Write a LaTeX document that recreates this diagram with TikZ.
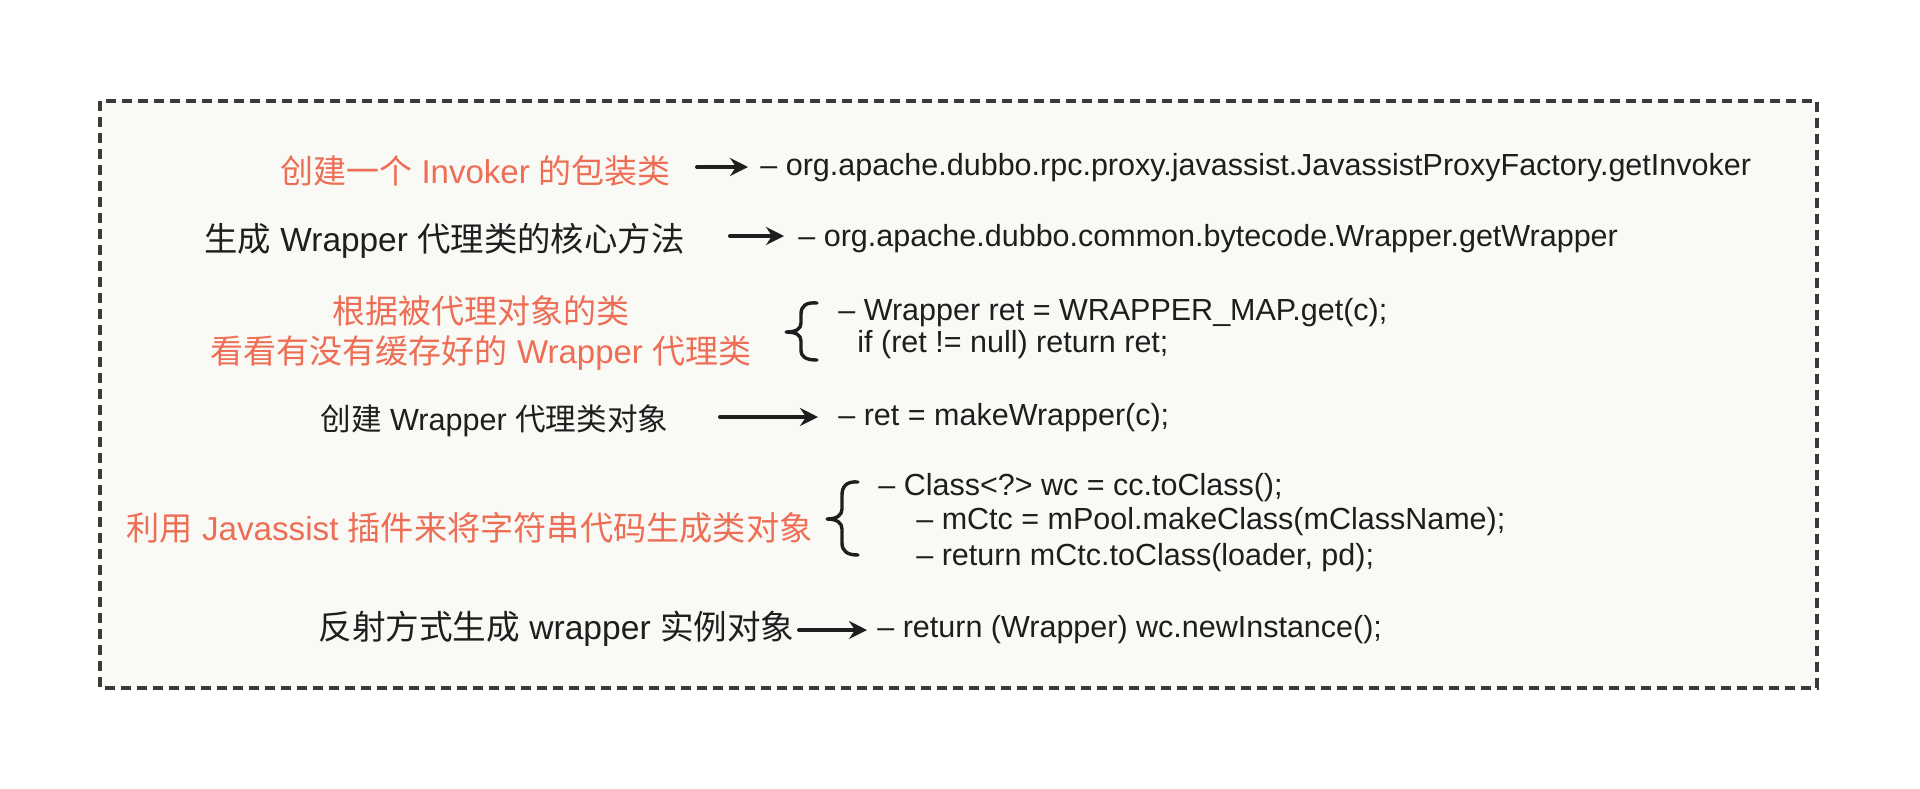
\documentclass[tikz,border=0pt]{standalone}
\usepackage{fontspec}
\setmainfont{Liberation Sans}
\newfontfamily\cjk{Noto Sans CJK SC}
\usetikzlibrary{arrows.meta}
\definecolor{orng}{HTML}{EE6E55}
\definecolor{ink}{HTML}{1E1E1E}
\definecolor{boxbg}{HTML}{F9F9F6}
\definecolor{boxline}{HTML}{3A3A3A}
\tikzset{
  lbltxt/.style={anchor=base west, inner sep=0pt, font=\fontsize{16.5}{20}\selectfont, text=ink},
  hot/.style={text=orng},
  codetxt/.style={anchor=base west, inner sep=0pt, font=\fontsize{15.25}{18}\selectfont, text=ink},
  conn/.style={line width=2pt, draw=ink, line cap=round, -{Stealth[length=9pt,width=9pt,inset=3pt]}},
  bracket/.style={line width=1.7pt, draw=ink, line cap=round, line join=round},
  dashframe/.style={draw=boxline, line width=1.75pt, dash pattern=on 5pt off 3pt, fill=boxbg}
}
\begin{document}
\begin{tikzpicture}[x=0.5pt,y=-0.5pt]
\useasboundingbox (0,0) rectangle (1920,788);
\fill[white] (0,0) rectangle (1920,788);
\draw[dashframe] (100,101) rectangle (1817,688);

% row 1
\node[lbltxt,hot] (l1) at (280,183) {{\cjk 创建一个} Invoker {\cjk 的包装类}};
\node[codetxt] (c1) at (760,175) {-- org.apache.dubbo.rpc.proxy.javassist.JavassistProxyFactory.getInvoker};
\coordinate (a1s) at (697,167);
\coordinate (a1e) at (748,167);
\draw[conn] (a1s) -- (a1e);

% row 2
\node[lbltxt,font=\fontsize{16.7}{20}\selectfont] (l2) at (204,251) {{\cjk 生成} Wrapper {\cjk 代理类的核心方法}};
\node[codetxt] (c2) at (798,246) {-- org.apache.dubbo.common.bytecode.Wrapper.getWrapper};
\coordinate (a2s) at (730,236);
\coordinate (a2e) at (784,236);
\draw[conn] (a2s) -- (a2e);

% row 3
\node[lbltxt,hot,anchor=base] (l3a) at (481,323) {\cjk 根据被代理对象的类};
\node[lbltxt,hot,anchor=base] (l3b) at (481,363) {{\cjk 看看有没有缓存好的} Wrapper {\cjk 代理类}};
\draw[bracket] (817,303) .. controls (806,302) and (801,306) .. (801,314) -- (801,323)
  .. controls (801,329) and (796,332) .. (786,332)
  .. controls (796,332) and (801,335) .. (801,341) -- (801,350)
  .. controls (801,357) and (806,360) .. (817,360);
\node[codetxt] (c3a) at (838,320) {-- Wrapper ret = WRAPPER\_MAP.get(c);};
\node[codetxt] (c3b) at (857,352) {if (ret != null) return ret;};

% row 4
\node[lbltxt,font=\fontsize{15.3}{19}\selectfont] (l4) at (320,430) {{\cjk 创建} Wrapper {\cjk 代理类对象}};
\node[codetxt] (c4) at (838,425) {-- ret = makeWrapper(c);};
\coordinate (a4s) at (720,417);
\coordinate (a4e) at (818,417);
\draw[conn] (a4s) -- (a4e);

% row 5
\node[lbltxt,hot,font=\fontsize{16.6}{20}\selectfont] (l5) at (126,540) {{\cjk 利用} Javassist {\cjk 插件来将字符串代码生成类对象}};
\draw[bracket] (858,482) .. controls (847,481) and (842,486) .. (842,495) -- (842,509)
  .. controls (842,515) and (837,519) .. (827,519)
  .. controls (837,519) and (842,523) .. (842,529) -- (842,543)
  .. controls (842,551) and (847,555) .. (858,555);
\node[codetxt] (c5a) at (878,495) {-- Class<?> wc = cc.toClass();};
\node[codetxt] (c5b) at (916,529) {-- mCtc = mPool.makeClass(mClassName);};
\node[codetxt] (c5c) at (916,565) {-- return mCtc.toClass(loader, pd);};

% row 6
\node[lbltxt,font=\fontsize{16.8}{20}\selectfont] (l6) at (318,639) {{\cjk 反射方式生成} wrapper {\cjk 实例对象}};
\node[codetxt] (c6) at (877,637) {-- return (Wrapper) wc.newInstance();};
\coordinate (a6s) at (799,630);
\coordinate (a6e) at (867,630);
\draw[conn] (a6s) -- (a6e);
\end{tikzpicture}
\end{document}
